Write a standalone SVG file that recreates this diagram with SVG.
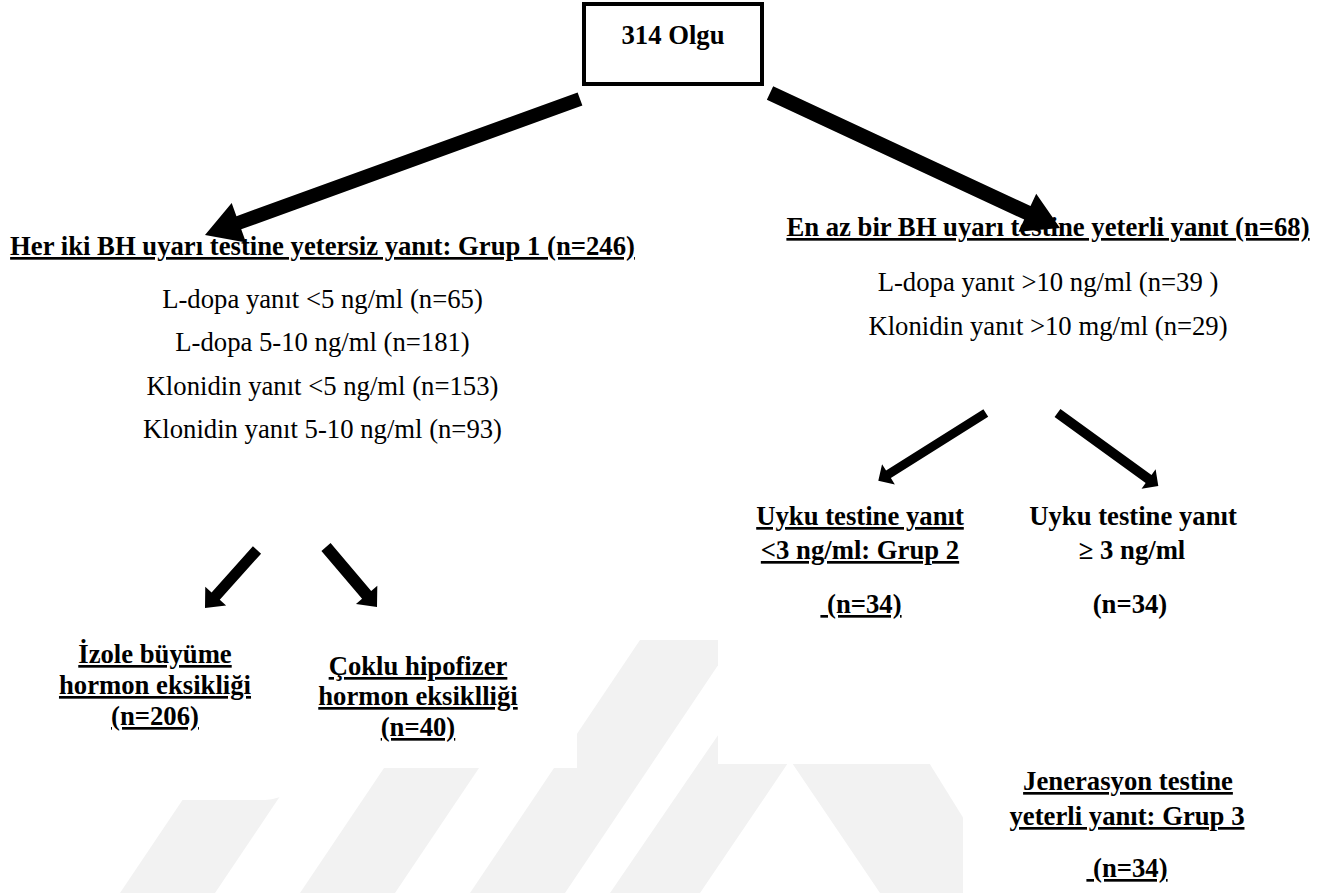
<svg xmlns="http://www.w3.org/2000/svg" width="1344" height="893" viewBox="0 0 1344 893">
<defs>
<style>
text{font-family:"Liberation Serif","Times New Roman",serif;font-size:26.7px;fill:#000;text-anchor:middle}
.b{font-weight:bold}
.u{text-decoration:underline}
.wm{fill:#f2f2f2}
.arrow{fill:#000}
</style>
<clipPath id="wmclip">
<path d="M0,800 H265 A35,32 0 0 0 300,768 H577 V640 H718 V764 H963 V893 H0 Z"/>
</clipPath>
</defs>
<rect width="1344" height="893" fill="#fff"/>
<g id="watermark" clip-path="url(#wmclip)">
<polygon class="wm" points="120,893 215,893 385,640 290,640"/>
<polygon class="wm" points="300,893 395,893 565,640 470,640"/>
<polygon class="wm" points="470,893 565,893 735,640 640,640"/>
<polygon class="wm" points="610,893 700,893 790,760 880,893 970,893 790,630"/>
<polygon class="wm" points="800,700 890,700 1010,893 920,893"/>
</g>
<g id="connectors">
<polygon class="arrow" points="577.61,92.42 236.45,216.14 231.68,202.98 205,235 246.0,242.46 241.23,229.30 582.39,105.58"/>
<polygon class="arrow" points="773.17,86.2 1030.53,206.01 1036.22,193.77 1060,228 1018.5,231.85 1024.2,219.61 766.84,99.8"/>
<polygon class="arrow" points="252.91,546.33 211.59,592.42 205.26,586.75 205,608 226.10,605.44 219.78,599.76 261.10,553.67"/>
<polygon class="arrow" points="330.57,543.11 371.21,590.92 377.31,585.74 377,607 355.97,603.88 362.07,598.70 321.43,550.89"/>
<polygon class="arrow" points="983.4,409.19 886.06,470.49 882.06,464.14 878.3,480.7 894.86,484.46 890.86,478.11 988.2,416.81"/>
<polygon class="arrow" points="1060.43,408.95 1151.51,474.92 1155.61,469.25 1158.3,486 1141.55,488.69 1145.65,483.02 1054.57,417.05"/>
</g>
<g id="root">
<rect x="584" y="4" width="178" height="80" fill="#fff" stroke="#000" stroke-width="4"/>
<text class="b" x="673" y="44">314 Olgu</text>
</g>
<g id="grup1">
<text class="b u" x="322.5" y="255">Her iki BH uyarı testine yetersiz yanıt: Grup 1 (n=246)</text>
<text x="322.5" y="308">L-dopa yanıt &lt;5 ng/ml (n=65)</text>
<text x="322.5" y="351">L-dopa 5-10 ng/ml (n=181)</text>
<text x="322.5" y="395">Klonidin yanıt &lt;5 ng/ml (n=153)</text>
<text x="322.5" y="438">Klonidin yanıt 5-10 ng/ml (n=93)</text>
</g>
<g id="yeterli">
<text class="b u" x="1048" y="236">En az bir BH uyarı testine yeterli yanıt (n=68)</text>
<text x="1048" y="291">L-dopa yanıt &gt;10 ng/ml (n=39 )</text>
<text x="1048" y="335">Klonidin yanıt &gt;10 mg/ml (n=29)</text>
</g>
<g id="izole">
<text class="b u" x="155" y="663">İzole büyüme</text>
<text class="b u" x="155" y="694">hormon eksikliği</text>
<text class="b u" x="155" y="725">(n=206)</text>
</g>
<g id="coklu">
<text class="b u" x="418" y="675">Çoklu hipofizer</text>
<text class="b u" x="418" y="705">hormon eksiklliği</text>
<text class="b u" x="418" y="736">(n=40)</text>
</g>
<g id="grup2">
<text class="b u" x="860" y="525">Uyku testine yanıt</text>
<text class="b u" x="860" y="559">&lt;3 ng/ml: Grup 2</text>
<text class="b u" x="861" y="613" xml:space="preserve"> (n=34)</text>
</g>
<g id="uyku-yeterli">
<text class="b" x="1133" y="525">Uyku testine yanıt</text>
<text class="b" x="1132" y="559">≥ 3 ng/ml</text>
<text class="b" x="1130" y="613">(n=34)</text>
</g>
<g id="grup3">
<text class="b u" x="1128" y="790">Jenerasyon testine</text>
<text class="b u" x="1127" y="825">yeterli yanıt: Grup 3</text>
<text class="b u" x="1127" y="877" xml:space="preserve"> (n=34)</text>
</g>
</svg>
